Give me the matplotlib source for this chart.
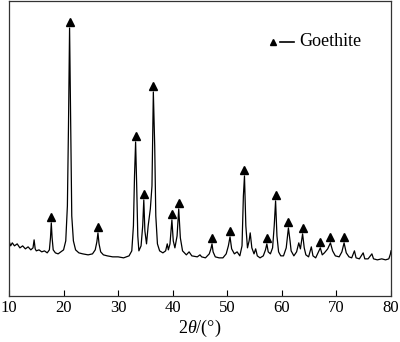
import numpy as np
import matplotlib
matplotlib.use('Agg')
import matplotlib.pyplot as plt

plt.rcParams['font.family'] = ['Liberation Serif', 'DejaVu Serif']
plt.rcParams['mathtext.fontset'] = 'custom'
plt.rcParams['mathtext.rm'] = 'Liberation Serif'
plt.rcParams['mathtext.it'] = 'Liberation Serif:italic'

# XRD trace: 2theta (deg) and intensity (a.u.)
two_theta = [
    10.0, 10.3, 10.6, 11.0, 11.5, 12.0, 12.5, 13.0, 13.5, 14.0, 14.4, 14.6, 14.8, 15.0,
    15.5, 16.0, 16.5, 17.0, 17.4, 17.6, 17.75, 17.9, 18.1, 18.5, 19.0, 19.5, 20.0,
    20.4, 20.7, 20.9, 21.1, 21.3, 21.5, 21.8, 22.2, 22.8, 23.5, 24.5, 25.3, 25.8,
    26.1, 26.3, 26.5, 26.8, 27.3, 28.0, 29.0, 30.0, 31.0, 32.0, 32.5, 32.8, 33.0,
    33.2, 33.4, 33.6, 33.8, 34.2, 34.5, 34.7, 34.9, 35.2, 35.5, 35.9, 36.2, 36.45,
    36.7, 36.9, 37.2, 37.6, 38.2, 38.7, 39.0, 39.2, 39.5, 39.85, 40.1, 40.4, 40.8,
    41.1, 41.4, 41.8, 42.5, 43.0, 43.5, 44.5, 45.0, 45.3, 46.0, 46.7, 47.0, 47.2,
    47.4, 47.8, 48.5, 49.2, 49.8, 50.2, 50.5, 50.8, 51.3, 51.8, 52.3, 52.7, 52.95,
    53.15, 53.4, 53.7, 54.0, 54.2, 54.5, 54.9, 55.2, 55.5, 56.0, 56.6, 57.0, 57.25,
    57.5, 57.9, 58.3, 58.6, 58.85, 59.1, 59.4, 59.8, 60.3, 60.8, 61.2, 61.5, 61.7,
    62.2, 62.7, 63.1, 63.4, 63.8, 64.1, 64.4, 64.9, 65.4, 65.7, 66.2, 66.8, 67.05,
    67.4, 67.8, 68.4, 68.9, 69.3, 69.8, 70.5, 71.0, 71.4, 71.8, 72.3, 72.8, 73.3,
    73.6, 74.2, 74.9, 75.2, 75.8, 76.5, 76.8, 77.5, 78.3, 79.0, 79.6, 79.9, 80.0,
]
intensity = [
    55, 50, 53, 50, 52, 48, 50, 47, 49, 46, 48, 56, 47, 45,
    46, 44, 45, 43, 46, 58, 73, 58, 46, 43, 42, 44, 46,
    55, 90, 170, 268, 170, 80, 55, 46, 43, 42, 41, 42, 46,
    54, 63, 52, 44, 41, 40, 39, 39, 38, 40, 45, 70, 120,
    154, 110, 60, 45, 50, 70, 96, 65, 52, 70, 87, 110, 204,
    150, 80, 52, 45, 43, 45, 52, 46, 52, 76, 55, 48, 60,
    87, 58, 45, 41, 44, 40, 39, 41, 39, 38, 42, 47, 52,
    44, 39, 38, 38, 42, 50, 59, 47, 42, 44, 40, 50, 100,
    120, 70, 48, 55, 63, 48, 42, 47, 40, 38, 40, 46, 52,
    44, 42, 48, 70, 95, 60, 44, 40, 40, 48, 68, 55, 45,
    40, 44, 53, 47, 62, 48, 41, 39, 49, 40, 38, 45, 48,
    41, 43, 47, 53, 45, 40, 39, 44, 53, 43, 39, 38, 45,
    38, 37, 43, 37, 37, 42, 37, 36, 37, 36, 37, 42, 45,
]

# Goethite reflections marked with triangles
goethite_peaks = [17.75, 21.1, 26.3, 33.2, 34.7, 36.45, 39.85, 41.1, 47.2, 50.5,
                  53.15, 57.25, 58.85, 61.2, 63.8, 67.05, 68.9, 71.4]

fig = plt.figure(figsize=(4.0, 3.42), dpi=100)
ax = fig.add_axes([0.0225, 0.135, 0.955, 0.862])

ax.plot(two_theta, intensity, color='black', lw=0.9)

peak_h = np.interp(goethite_peaks, two_theta, intensity)
ax.plot(goethite_peaks, peak_h + 6, linestyle='none', marker='^',
        color='black', markersize=6)

# legend drawn by hand
ax.plot([0.692], [0.862], marker='^', color='black', markersize=4,
        transform=ax.transAxes)
ax.plot([0.71, 0.745], [0.862, 0.862], color='black', lw=1.2,
        transform=ax.transAxes)
ax.text(0.76, 0.862, 'Goethite', fontsize=13, va='center', ha='left',
        transform=ax.transAxes)

ax.set_xlim(10, 80)
ax.set_ylim(0, 295)
ax.set_xticks(range(10, 81, 10))
ax.set_yticks([])
ax.tick_params(axis='x', direction='in', length=4, labelsize=12, pad=3)
for s in ax.spines.values():
    s.set_linewidth(0.9)
    s.set_color('#333333')
ax.set_xlabel(r'2$\mathit{\theta}$/(°)', fontsize=13, labelpad=1)

fig.savefig('out.png', dpi=100)
